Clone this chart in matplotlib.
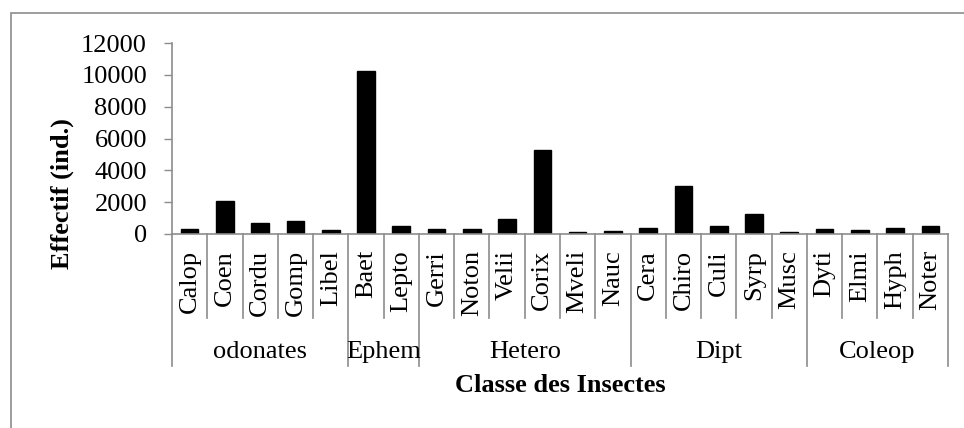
import matplotlib.pyplot as plt
from matplotlib.patches import Rectangle
from matplotlib.lines import Line2D

plt.rcParams['font.family'] = ['Liberation Serif', 'DejaVu Serif']

# Data
taxa = ['Calop', 'Coen', 'Cordu', 'Gomp', 'Libel',
        'Baet', 'Lepto',
        'Gerri', 'Noton', 'Velii', 'Corix', 'Mveli', 'Nauc',
        'Cera', 'Chiro', 'Culi', 'Syrp', 'Musc',
        'Dyti', 'Elmi', 'Hyph', 'Noter']
effectif = [330, 2090, 710, 800, 250,
            10240, 480,
            330, 310, 940, 5250, 150, 190,
            380, 2990, 480, 1240, 125,
            290, 230, 400, 480]
groups = ['odonates', 'Ephem', 'Hetero', 'Dipt', 'Coleop']
group_sizes = [5, 2, 6, 5, 4]
yticks = [0, 2000, 4000, 6000, 8000, 10000, 12000]

W, H = 964, 428
fig = plt.figure(figsize=(W / 100, H / 100), dpi=100)
grey = '#8c8c8c'
fs = 19

# outer chart frame (only top/left visible in the crop)
fig.patches.append(Rectangle((11 / W, -0.1), 1.2, (H - 13) / H + 0.1,
                             transform=fig.transFigure, fill=False,
                             edgecolor=grey, linewidth=1.2))

ax = fig.add_axes([172 / W, (H - 234) / H, (948 - 172) / W, (234 - 43) / H])
x = range(len(taxa))
ax.bar(x, effectif, width=0.5, color='black', edgecolor='black')
ax.set_xlim(-0.5, len(taxa) - 0.5)
ax.set_ylim(0, 12000)
ax.set_yticks(yticks)
ax.set_yticklabels([str(t) for t in yticks], fontsize=fs)
ax.tick_params(axis='y', length=6, color=grey, width=1, pad=12)
ax.set_xticks([])
for s in ['top', 'right']:
    ax.spines[s].set_visible(False)
for s in ['left', 'bottom']:
    ax.spines[s].set_color(grey)
    ax.spines[s].set_linewidth(1.2)

px = 1 / (234 - 43)  # axes fraction per pixel
tr = ax.get_xaxis_transform()

# category labels
for i, name in enumerate(taxa):
    ax.text(i, -(250 - 234) * px, name, rotation=90, ha='center', va='top',
            fontsize=fs, transform=tr, clip_on=False)

# separators between categories and groups
bounds = [0]
for n in group_sizes:
    bounds.append(bounds[-1] + n)
group_edges = set(bounds)
for k in range(len(taxa) + 1):
    low = 366 if k in group_edges else 318
    ax.add_line(Line2D([k - 0.5, k - 0.5], [0, -(low - 234) * px],
                       transform=tr, color=grey, linewidth=1.2, clip_on=False))

# group labels
for g, a, b in zip(groups, bounds[:-1], bounds[1:]):
    ax.text((a + b - 1) / 2, -(352 - 234) * px, g, ha='center', va='center',
            fontsize=fs, transform=tr, clip_on=False)

fig.text(560 / W, 1 - 386 / H, 'Classe des Insectes', ha='center', va='center',
         fontsize=fs, fontweight='bold')
fig.text(62 / W, 1 - 194 / H, 'Effectif (ind.)', ha='center', va='center',
         rotation=90, fontsize=fs, fontweight='bold')

fig.savefig('out.png', dpi=100)
